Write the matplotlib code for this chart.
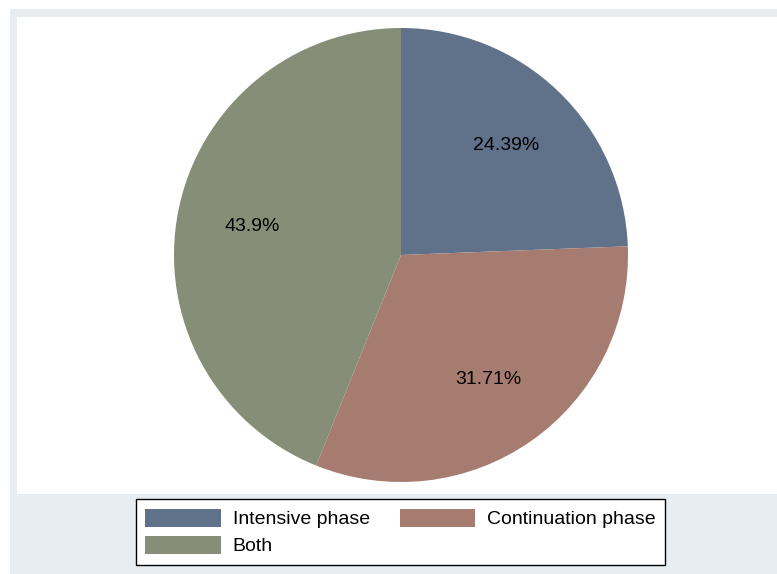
import matplotlib.pyplot as plt
from matplotlib.patches import Rectangle

plt.rcParams['font.family'] = ['Liberation Sans', 'DejaVu Sans']

# Data
categories = ['Intensive phase', 'Continuation phase', 'Both']
shares = [24.39, 31.71, 43.9]
colors = ['#60718a', '#a57c6f', '#868e78']

W, H = 777, 574
fig = plt.figure(figsize=(W / 100, H / 100), dpi=100, facecolor='white')

# graph region (light grey) and plot region (white)
fig.patches.append(Rectangle((10 / W, 0), 1 - 10 / W, (H - 9) / H,
                             transform=fig.transFigure, facecolor='#e8edf1',
                             edgecolor='none', zorder=-2))
fig.patches.append(Rectangle((17 / W, (H - 494) / H), 1 - 17 / W, (494 - 17) / H,
                             transform=fig.transFigure, facecolor='white',
                             edgecolor='none', zorder=-1))

# pie axes: centre (401, 255), radius 227 px
cx, cy, r = 401, 255, 227
ax = fig.add_axes([(cx - r) / W, (H - cy - r) / H, 2 * r / W, 2 * r / H])
ax.set_facecolor('none')
ax.set_zorder(2)

wedges, texts, autotexts = ax.pie(
    shares, colors=colors, startangle=90, counterclock=False,
    autopct=lambda p: f'{round(p, 2):g}%', pctdistance=0.67,
    wedgeprops=dict(linewidth=0), textprops=dict(fontsize=14, color='black'),
    radius=1)
ax.set_xlim(-1, 1)
ax.set_ylim(-1, 1)
ax.set_aspect('equal')
ax.axis('off')

# legend filled row by row: reorder for matplotlib's column-major layout
order = [0, 2, 1]
leg = fig.legend([wedges[i] for i in order], [categories[i] for i in order],
                 ncol=2, loc='center', bbox_to_anchor=(400.5 / W, 1 - 532 / H),
                 fontsize=14, frameon=True, fancybox=False, framealpha=1,
                 edgecolor='black', handlelength=3.86, handleheight=1.08,
                 handletextpad=0.62, columnspacing=1.55, labelspacing=0.36,
                 borderpad=0.5)
leg.get_frame().set_linewidth(1)
leg.set_zorder(3)

fig.savefig('out.png', dpi=100, facecolor='white')
